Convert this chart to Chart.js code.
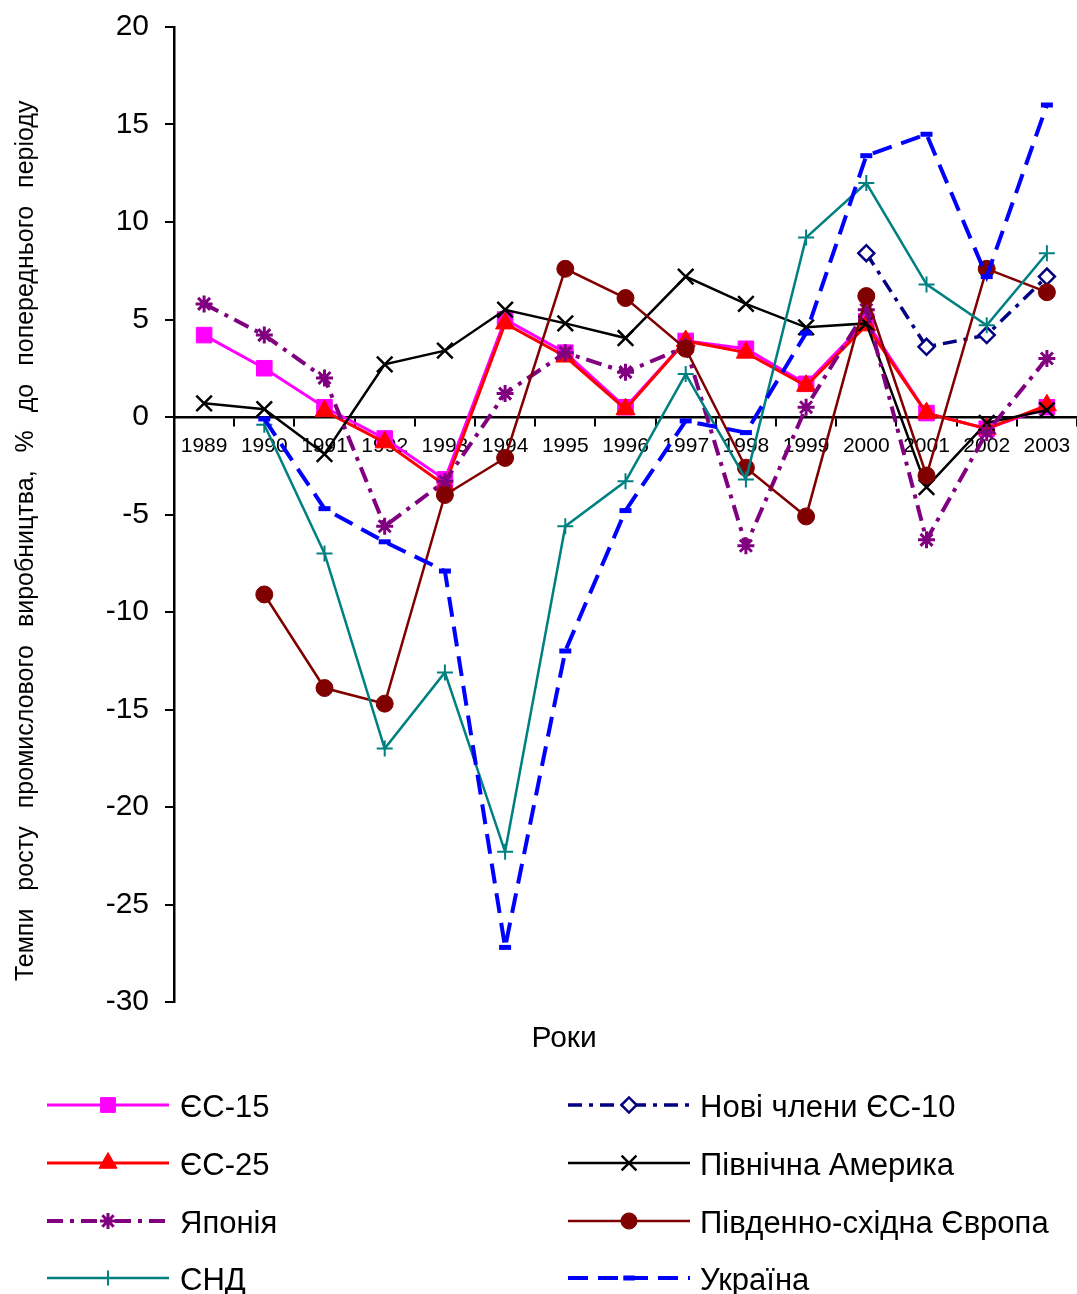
<!DOCTYPE html>
<html lang="uk">
<head>
<meta charset="utf-8">
<title>Темпи росту промислового виробництва</title>
<script src="https://cdn.jsdelivr.net/npm/chart.js@4.4.1/dist/chart.umd.min.js"></script>
<style>
  html, body { margin: 0; padding: 0; background: #fff; }
  #chart { display: block; }
</style>
</head>
<body>
<canvas id="chart" width="1077" height="1294"></canvas>
<script>
/* Темпи росту промислового виробництва, 1989-2003 */

const years = ['1989', '1990', '1991', '1992', '1993', '1994', '1995', '1996',
               '1997', '1998', '1999', '2000', '2001', '2002', '2003'];

// y axis: -30 .. 20 step 5
const yMin = -30;
const yMax = 20;
const yStep = 5;

const es15      = [4.2, 2.5, 0.5, -1.1, -3.2, 5.0, 3.3, 0.5, 3.9, 3.5, 1.7, 4.9, 0.2, -0.6, 0.5];
const newEu10   = [null, null, null, null, null, null, null, null, null, null, null, 8.4, 3.6, 4.2, 7.2];
const es25      = [null, null, 0.3, -1.3, -3.5, 4.8, 3.1, 0.4, 3.9, 3.3, 1.6, 4.7, 0.2, -0.6, 0.6];
const northAm   = [0.7, 0.4, -1.9, 2.7, 3.4, 5.5, 4.8, 4.05, 7.2, 5.8, 4.6, 4.8, -3.6, -0.3, 0.35];
const japan     = [5.8, 4.2, 2.0, -5.6, -3.3, 1.2, 3.3, 2.3, 3.6, -6.6, 0.5, 5.5, -6.3, -0.8, 3.0];
const seEurope  = [null, -9.1, -13.9, -14.7, -4.0, -2.1, 7.6, 6.1, 3.5, -2.6, -5.1, 6.2, -3.0, 7.6, 6.4];
const cis       = [null, -0.4, -7.0, -17.0, -13.1, -22.3, -5.6, -3.3, 2.2, -3.2, 9.2, 12.0, 6.8, 4.7, 8.4];
const ukraine   = [null, -0.1, -4.7, -6.4, -7.9, -27.2, -12.0, -4.8, -0.2, -0.8, 4.3, 13.4, 14.5, 7.2, 16.0];

const yTitle = 'Темпи росту промислового виробництва, % до попереднього періоду';
const xTitle = 'Роки';

const FONT = "'Liberation Sans', Arial, sans-serif";

function series(label, data, color, opts) {
    return Object.assign({
        label: label,
        data: data,
        borderColor: color,
        backgroundColor: color,
        pointBackgroundColor: color,
        pointBorderColor: color,
        borderWidth: 2.5,
        tension: 0,
        fill: false
    }, opts);
}

// same order as in the original sheet, later ones drawn on top
const datasets = [
    series('ЄС-15', es15, '#ff00ff', { borderWidth: 3, pointStyle: 'rect', pointRadius: 11, pointBorderWidth: 1 }),
    series('Нові члени ЄС-10', newEu10, '#000080', { borderWidth: 3.5, borderDash: [14, 7, 4, 7], pointStyle: 'rectRot', pointRadius: 8, pointBorderWidth: 2.5, pointBackgroundColor: '#ffffff' }),
    series('ЄС-25', es25, '#ff0000', { borderWidth: 3, pointStyle: 'triangle', pointRadius: 11, pointBorderWidth: 1 }),
    series('Північна Америка', northAm, '#000000', { borderWidth: 2.5, pointStyle: 'crossRot', pointRadius: 11, pointBorderWidth: 2.5 }),
    series('Японія', japan, '#800080', { borderWidth: 4, borderDash: [16, 7, 4, 7], pointStyle: 'star', pointRadius: 8.5, pointBorderWidth: 3 }),
    series('Південно-східна Європа', seEurope, '#800000', { borderWidth: 2.5, pointStyle: 'circle', pointRadius: 8.5, pointBorderWidth: 1 }),
    series('СНД', cis, '#008080', { borderWidth: 2.5, pointStyle: 'cross', pointRadius: 8, pointBorderWidth: 2 }),
    series('Україна', ukraine, '#0000ff', { borderWidth: 4, borderDash: [20, 10], pointStyle: 'line', pointRadius: 6, pointBorderWidth: 5 })
];
datasets.forEach((ds, i) => { ds.order = datasets.length - i; });

const legendLeft = ['ЄС-15', 'ЄС-25', 'Японія', 'СНД'];
const legendRight = ['Нові члени ЄС-10', 'Північна Америка', 'Південно-східна Європа', 'Україна'];

// axis titles + two-column legend under the plot
const extrasPlugin = {
    id: 'extras',
    afterDraw(chart) {
        const ctx = chart.ctx;
        const area = chart.chartArea;

        ctx.save();
        ctx.fillStyle = '#000';
        ctx.font = '25px ' + FONT;
        ctx.textAlign = 'center';
        ctx.textBaseline = 'alphabetic';
        if ('wordSpacing' in ctx) ctx.wordSpacing = '11px';
        ctx.translate(33, area.top + (area.bottom - area.top) * 0.527);
        ctx.rotate(-Math.PI / 2);
        ctx.fillText(yTitle, 0, 0);
        ctx.restore();

        ctx.save();
        ctx.fillStyle = '#000';
        ctx.font = '30px ' + FONT;
        ctx.textAlign = 'center';
        ctx.textBaseline = 'alphabetic';
        ctx.fillText(xTitle, area.left + (area.right - area.left) * 0.432, area.bottom + 45);
        ctx.restore();

        const rowY = [1105, 1163, 1221, 1278];
        const cols = [
            { names: legendLeft, x0: 47, x1: 169, text: 180 },
            { names: legendRight, x0: 568, x1: 690, text: 700 }
        ];
        cols.forEach(col => {
            col.names.forEach((name, r) => {
                const ds = chart.data.datasets.find(d => d.label === name);
                const y = rowY[r];
                ctx.save();
                ctx.strokeStyle = ds.borderColor;
                ctx.lineWidth = ds.borderWidth;
                ctx.setLineDash(ds.borderDash || []);
                ctx.beginPath();
                ctx.moveTo(col.x0, y);
                ctx.lineTo(col.x1, y);
                ctx.stroke();
                ctx.setLineDash([]);
                ctx.fillStyle = ds.pointBackgroundColor;
                ctx.strokeStyle = ds.pointBorderColor;
                ctx.lineWidth = ds.pointBorderWidth;
                Chart.helpers.drawPoint(ctx, {
                    pointStyle: ds.pointStyle,
                    radius: ds.pointRadius * 0.95,
                    rotation: 0,
                    borderWidth: ds.pointBorderWidth
                }, (col.x0 + col.x1) / 2, y);
                ctx.fillStyle = '#000';
                ctx.font = '31px ' + FONT;
                ctx.textAlign = 'left';
                ctx.textBaseline = 'alphabetic';
                ctx.fillText(name, col.text, y + 12);
                ctx.restore();
            });
        });
    }
};

const ctx = document.getElementById('chart').getContext('2d');

new Chart(ctx, {
    type: 'line',
    data: {
        labels: years,
        datasets: datasets
    },
    options: {
        responsive: false,
        animation: false,
        devicePixelRatio: 1,
        layout: { autoPadding: false, padding: { top: 27, bottom: 292, left: 0, right: 0 } },
        plugins: {
            legend: { display: false },
            tooltip: { enabled: false }
        },
        scales: {
            x: {
                type: 'category',
                position: { y: 0 },
                offset: true,
                border: { color: '#000', width: 2.5 },
                grid: { offset: true, drawOnChartArea: false, drawTicks: true, tickLength: 8, color: '#000', lineWidth: 2 },
                ticks: {
                    color: '#000',
                    font: { family: FONT, size: 21 },
                    padding: 9,
                    autoSkip: false,
                    maxRotation: 0
                },
                afterFit(scale) { scale.paddingLeft = 0; scale.paddingRight = 0; }
            },
            y: {
                min: yMin,
                max: yMax,
                border: { color: '#000', width: 2.5 },
                grid: { drawOnChartArea: false, drawTicks: true, tickLength: 9, color: '#000', lineWidth: 2 },
                ticks: {
                    stepSize: yStep,
                    color: '#000',
                    font: { family: FONT, size: 30 },
                    padding: 16
                },
                afterFit(scale) {
                    scale.width = 174;
                    scale.paddingTop = 0;
                    scale.paddingBottom = 0;
                }
            }
        }
    },
    plugins: [extrasPlugin]
});
</script>
</body>
</html>
